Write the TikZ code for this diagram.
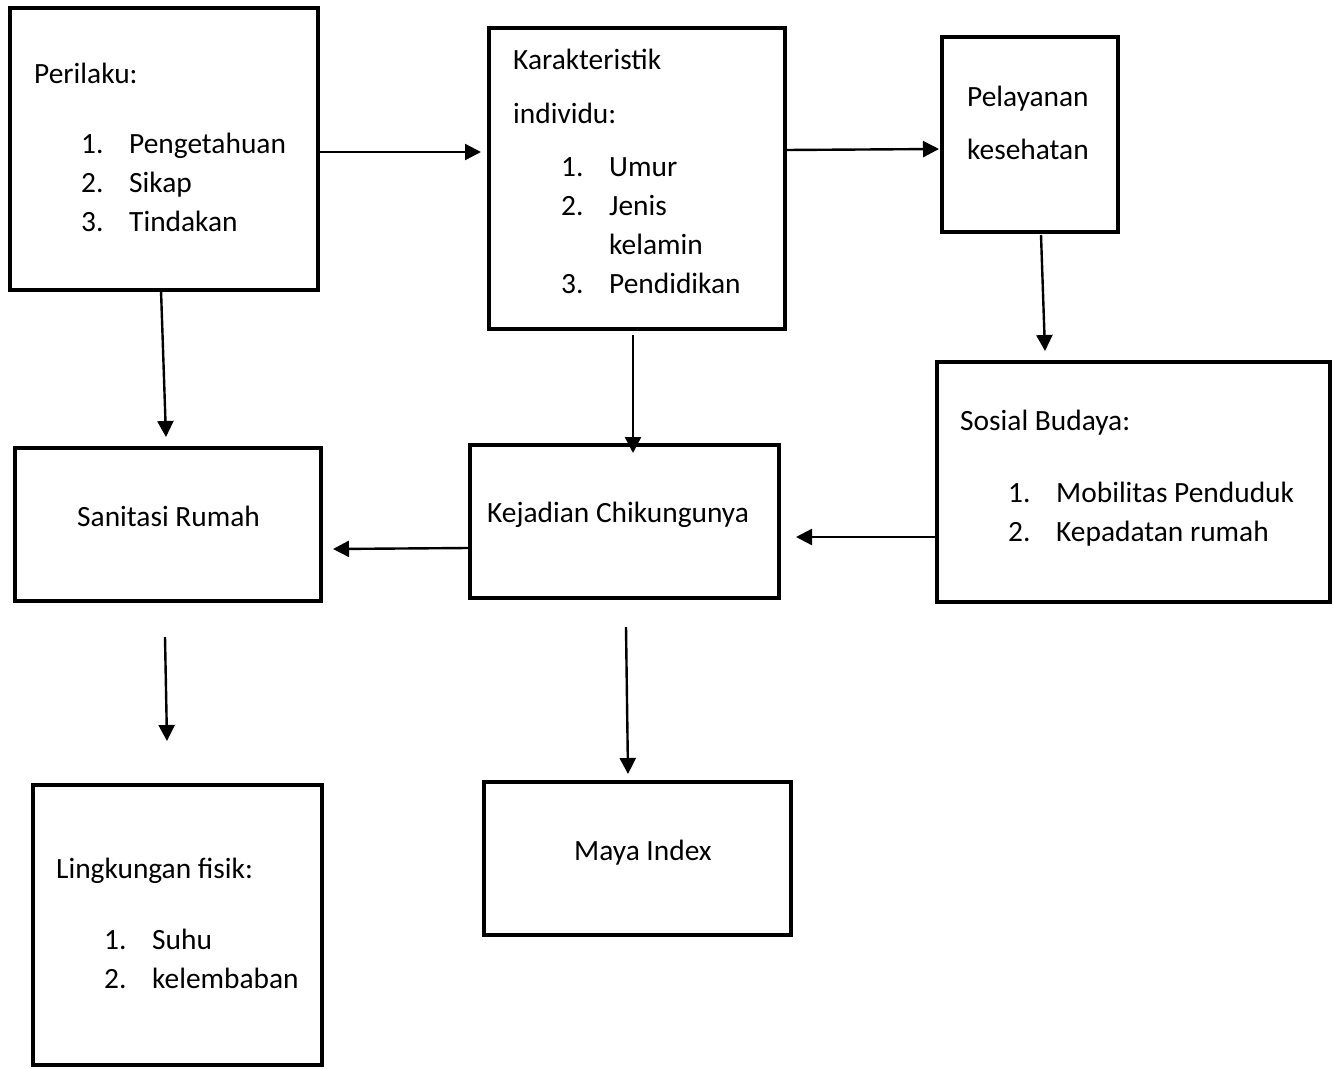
\documentclass[tikz,border=0pt]{standalone}
\usepackage{fontspec}
\setmainfont{Carlito}
\usetikzlibrary{arrows.meta}
\begin{document}
\begin{tikzpicture}[x=1pt,y=-1pt,
  box/.style={draw,line width=4.2pt,inner sep=0pt},
  arr/.style={line width=2.4pt,-{Triangle[length=16pt,width=16pt]}},
  txt/.style={anchor=base west,inner sep=0pt,font=\fontsize{29.4}{35}\selectfont}]
\useasboundingbox (0,0) rectangle (1338,1068);
% boxes
\node[box,minimum width=308,minimum height=282] (perilaku) at (164,149) {};
\node[box,minimum width=296,minimum height=301] (karak) at (637,178.5) {};
\node[box,minimum width=176,minimum height=195] (pelayanan) at (1030,134.5) {};
\node[box,minimum width=393,minimum height=240] (sosial) at (1133.5,482) {};
\node[box,minimum width=309,minimum height=153] (kejadian) at (624.5,521.5) {};
\node[box,minimum width=306,minimum height=153] (sanitasi) at (168,524.5) {};
\node[box,minimum width=289,minimum height=280] (lingkungan) at (177.5,925) {};
\node[box,minimum width=307,minimum height=153] (maya) at (637.5,858.5) {};
% texts
\node[txt] (t1) at (34,83) {Perilaku:};
\node[txt] (t2) at (81,153) {1.};\node[txt] (t3) at (129,153) {Pengetahuan};
\node[txt] (t4) at (81,192) {2.};\node[txt] (t5) at (129,192) {Sikap};
\node[txt] (t6) at (81,231) {3.};\node[txt] (t7) at (129,231) {Tindakan};
\node[txt] (k1) at (513,69) {Karakteristik};
\node[txt] (k2) at (513,123) {individu:};
\node[txt] (k3) at (561,176) {1.};\node[txt] (k4) at (609,176) {Umur};
\node[txt] (k5) at (561,215) {2.};\node[txt] (k6) at (609,215) {Jenis};
\node[txt] (k7) at (609,254) {kelamin};
\node[txt] (k8) at (561,293) {3.};\node[txt] (k9) at (609,293) {Pendidikan};
\node[txt] (p1) at (967,106) {Pelayanan};
\node[txt] (p2) at (967,159) {kesehatan};
\node[txt] (s1) at (960,430) {Sosial Budaya:};
\node[txt] (s2) at (1008,502) {1.};\node[txt] (s3) at (1056,502) {Mobilitas Penduduk};
\node[txt] (s4) at (1008,541) {2.};\node[txt] (s5) at (1056,541) {Kepadatan rumah};
\node[txt] (j1) at (487,522) {Kejadian Chikungunya};
\node[txt] (r1) at (77,526) {Sanitasi Rumah};
\node[txt] (m1) at (574,860) {Maya Index};
\node[txt] (l1) at (56,878) {Lingkungan fisik:};
\node[txt] (l2) at (104,949) {1.};\node[txt] (l3) at (152,949) {Suhu};
\node[txt] (l4) at (104,988) {2.};\node[txt] (l5) at (152,988) {kelembaban};
% connector endpoints
\coordinate (a1) at (318,152); \coordinate (a2) at (481,152);
\coordinate (b1) at (786,150); \coordinate (b2) at (939,149);
\coordinate (c1) at (1041,235); \coordinate (c2) at (1045,351);
\coordinate (d1) at (161,290); \coordinate (d2) at (166,437);
\coordinate (e1) at (633,335); \coordinate (e2) at (633,453);
\coordinate (f1) at (937,537); \coordinate (f2) at (796,537);
\coordinate (g1) at (468,548); \coordinate (g2) at (333,549);
\coordinate (h1) at (165,637); \coordinate (h2) at (167,741);
\coordinate (i1) at (626,627); \coordinate (i2) at (628,774);
\draw[arr] (a1) -- (a2);
\draw[arr] (b1) -- (b2);
\draw[arr] (c1) -- (c2);
\draw[arr] (d1) -- (d2);
\draw[arr] (e1) -- (e2);
\draw[arr] (f1) -- (f2);
\draw[arr] (g1) -- (g2);
\draw[arr] (h1) -- (h2);
\draw[arr] (i1) -- (i2);
\end{tikzpicture}
\end{document}
